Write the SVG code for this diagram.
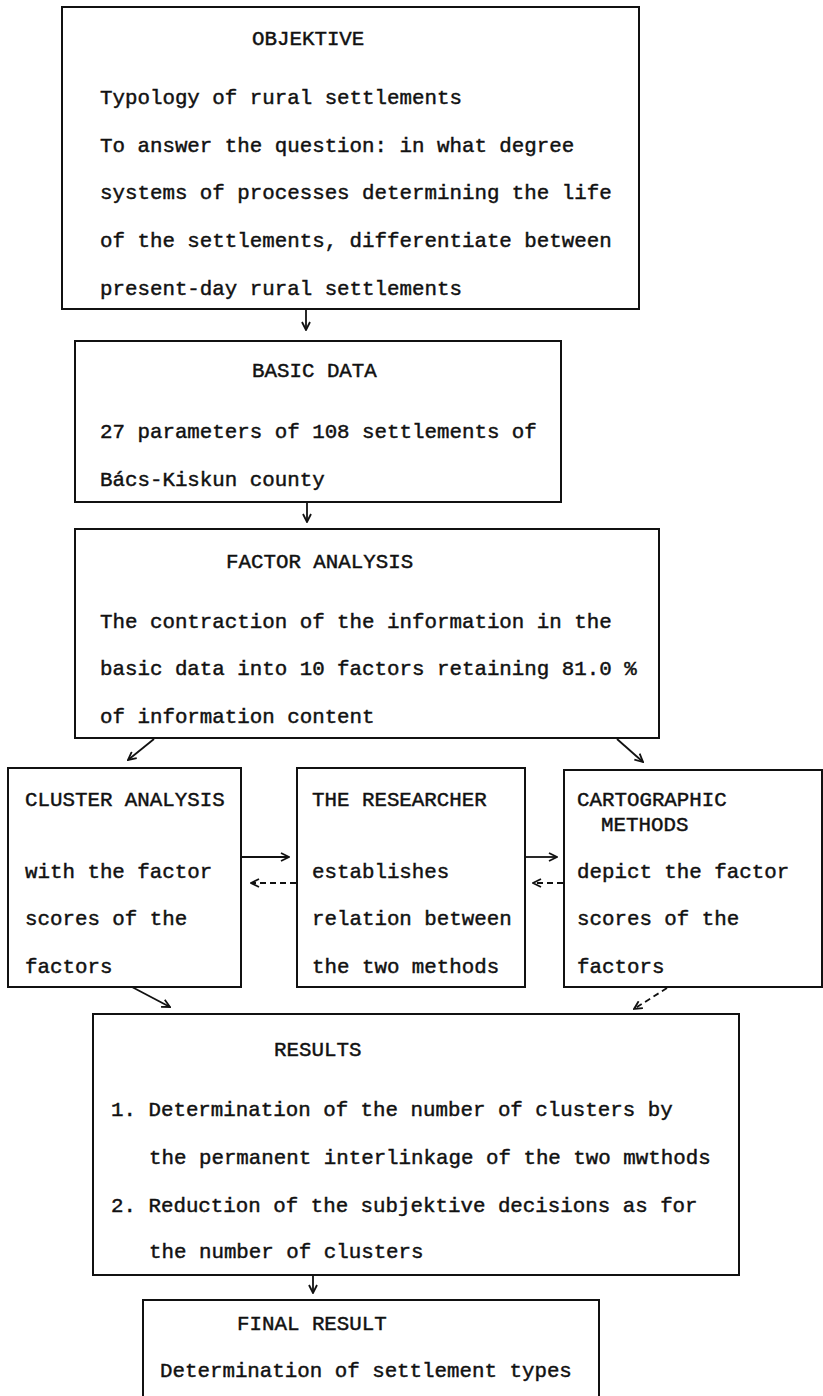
<svg xmlns="http://www.w3.org/2000/svg" width="823" height="1396" viewBox="0 0 823 1396">
<style>
.box{fill:none;stroke:#111;stroke-width:2}
text{font-family:"Liberation Mono","Courier New",monospace;font-size:20.8px;fill:#111;stroke:#111;stroke-width:0.45}
.c{stroke:#111;stroke-width:1.8;fill:none}
.d{stroke-dasharray:6 4}
</style>
<defs>
<marker id="ah" viewBox="0 0 10 10" refX="9" refY="5" markerWidth="10" markerHeight="10" markerUnits="userSpaceOnUse" orient="auto">
<path d="M1,1 L9,5 L1,9" fill="none" stroke="#111" stroke-width="1.8"/>
</marker>
</defs>
<rect width="823" height="1396" fill="#fff"/>
<g id="objektive">
<rect class="box" x="62" y="7" width="577" height="302"/>
<text x="252" y="45">OBJEKTIVE</text>
<text x="100" y="104">Typology of rural settlements</text>
<text x="100" y="152">To answer the question: in what degree</text>
<text x="100" y="199">systems of processes determining the life</text>
<text x="100" y="247">of the settlements, differentiate between</text>
<text x="100" y="295">present-day rural settlements</text>
</g>
<g id="basic-data">
<rect class="box" x="75" y="341" width="486" height="161"/>
<text x="252" y="377">BASIC DATA</text>
<text x="100" y="438">27 parameters of 108 settlements of</text>
<text x="100" y="486">Bács-Kiskun county</text>
</g>
<g id="factor-analysis">
<rect class="box" x="75" y="529" width="584" height="209"/>
<text x="226" y="568">FACTOR ANALYSIS</text>
<text x="100" y="628">The contraction of the information in the</text>
<text x="100" y="675">basic data into 10 factors retaining 81.0 %</text>
<text x="100" y="723">of information content</text>
</g>
<g id="cluster-analysis">
<rect class="box" x="8" y="768" width="233" height="219"/>
<text x="25" y="806">CLUSTER ANALYSIS</text>
<text x="25" y="878">with the factor</text>
<text x="25" y="925">scores of the</text>
<text x="25" y="973">factors</text>
</g>
<g id="researcher">
<rect class="box" x="297" y="768" width="228" height="219"/>
<text x="312" y="806">THE RESEARCHER</text>
<text x="312" y="878">establishes</text>
<text x="312" y="925">relation between</text>
<text x="312" y="973">the two methods</text>
</g>
<g id="cartographic">
<rect class="box" x="564" y="770" width="258" height="217"/>
<text x="577" y="806">CARTOGRAPHIC</text>
<text x="601" y="831">METHODS</text>
<text x="577" y="878">depict the factor</text>
<text x="577" y="925">scores of the</text>
<text x="577" y="973">factors</text>
</g>
<g id="results">
<rect class="box" x="93" y="1014" width="646" height="261"/>
<text x="274" y="1056">RESULTS</text>
<text x="111" y="1116">1. Determination of the number of clusters by</text>
<text x="149" y="1164">the permanent interlinkage of the two mwthods</text>
<text x="111" y="1212">2. Reduction of the subjektive decisions as for</text>
<text x="149" y="1258">the number of clusters</text>
</g>
<g id="final-result">
<path class="box" d="M143,1396 V1300 H599 V1396"/>
<text x="237" y="1330">FINAL RESULT</text>
<text x="160" y="1377">Determination of settlement types</text>
</g>
<g id="connectors">
<line class="c" x1="306" y1="309" x2="306" y2="330" marker-end="url(#ah)"/>
<line class="c" x1="307" y1="502" x2="307" y2="522" marker-end="url(#ah)"/>
<line class="c" x1="154" y1="739" x2="128" y2="760" marker-end="url(#ah)"/>
<line class="c" x1="617" y1="739" x2="643" y2="762" marker-end="url(#ah)"/>
<line class="c" x1="242" y1="857" x2="289" y2="857" marker-end="url(#ah)"/>
<line class="c d" x1="296" y1="883" x2="251" y2="883" marker-end="url(#ah)"/>
<line class="c" x1="525" y1="857" x2="557" y2="857" marker-end="url(#ah)"/>
<line class="c d" x1="563" y1="883" x2="533" y2="883" marker-end="url(#ah)"/>
<line class="c" x1="132" y1="987" x2="170" y2="1007" marker-end="url(#ah)"/>
<line class="c d" x1="667" y1="988" x2="634" y2="1009" marker-end="url(#ah)"/>
<line class="c" x1="313" y1="1275" x2="313" y2="1293" marker-end="url(#ah)"/>
</g>
</svg>
